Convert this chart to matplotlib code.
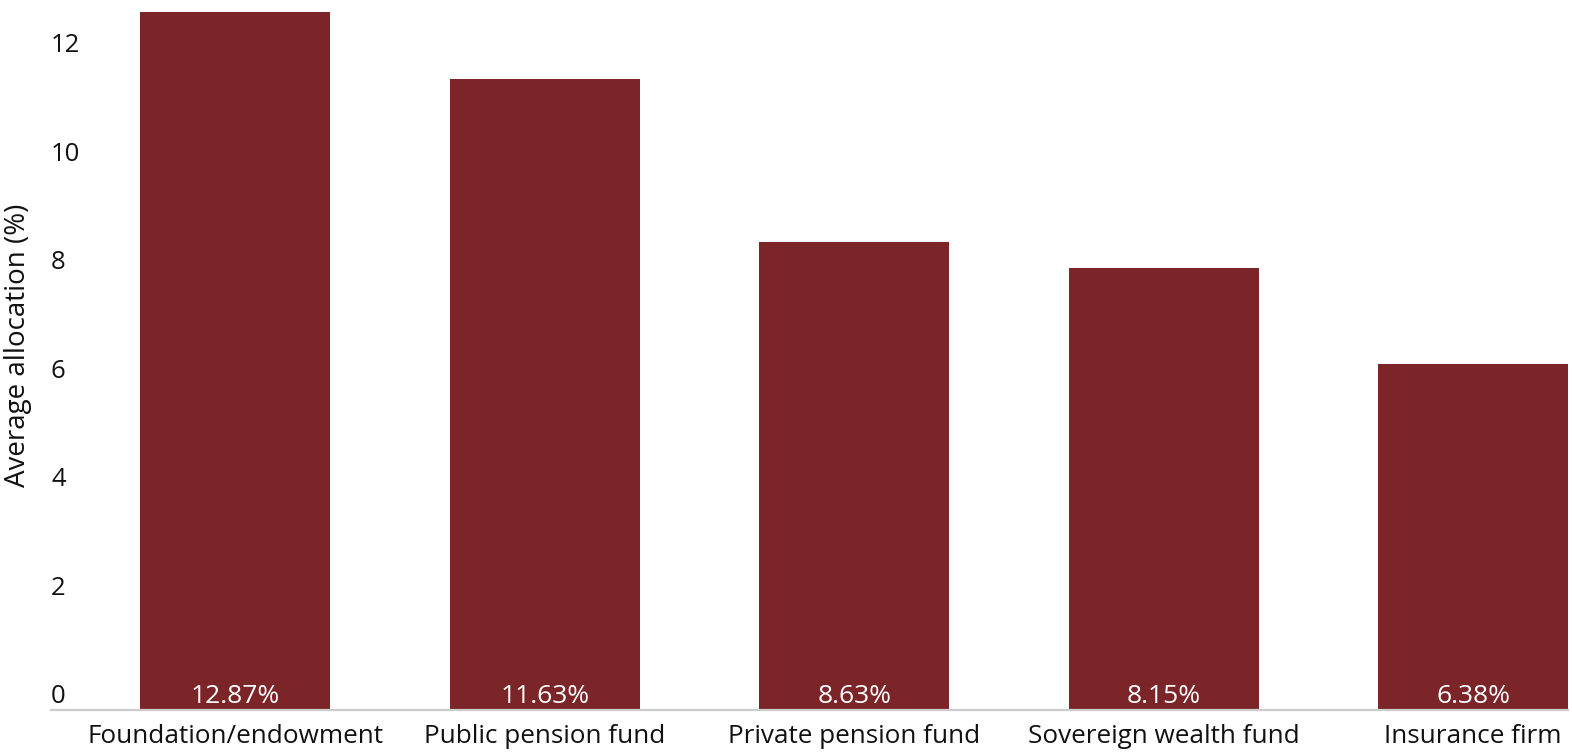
import matplotlib.pyplot as plt

# Data
categories = ["Foundation/endowment", "Public pension fund", "Private pension fund",
              "Sovereign wealth fund", "Insurance firm"]
allocation = [12.87, 11.63, 8.63, 8.15, 6.38]
y_ticks = [0, 2, 4, 6, 8, 10, 12]

plt.rcParams['font.family'] = ['Open Sans', 'DejaVu Sans']

fig = plt.figure(figsize=(15.72, 7.52), dpi=100)
ax = fig.add_axes([51 / 1572, 42 / 752, 1517 / 1572, 710 / 752])

x = range(len(categories))
bars = ax.bar(x, allocation, width=0.614, color='#7b2529')

# Value labels inside the bars, at the bottom
for xi, v in zip(x, allocation):
    ax.annotate(f"{v:.2f}%", (xi, 0), xytext=(0, 7), textcoords='offset pixels',
                ha='center', va='baseline', color='white', fontsize=19)

ax.set_xlim(-0.596, 4.307)
ax.set_ylim(0, 13.09)

# y tick labels drawn inside the axes, left-aligned, slightly above each tick
ax.set_yticks([])
for t in y_ticks:
    ax.annotate(str(t), (0, t), xycoords=ax.get_yaxis_transform(),
                xytext=(0, 7), textcoords='offset pixels',
                ha='left', va='baseline', color='#111111', fontsize=18.5)

ax.set_xticks(list(x))
ax.set_xticklabels(categories, fontsize=18.8, color='#111111')
ax.tick_params(axis='x', length=0, pad=10)

for side in ['top', 'right', 'left']:
    ax.spines[side].set_visible(False)
ax.spines['bottom'].set_color('#cccccc')
ax.spines['bottom'].set_linewidth(1.6)

fig.text(18 / 1572, 1 - 345 / 752, "Average allocation (%)", rotation=90,
         ha='center', va='center', fontsize=20, color='#111111')

fig.savefig('out.png', dpi=100)
